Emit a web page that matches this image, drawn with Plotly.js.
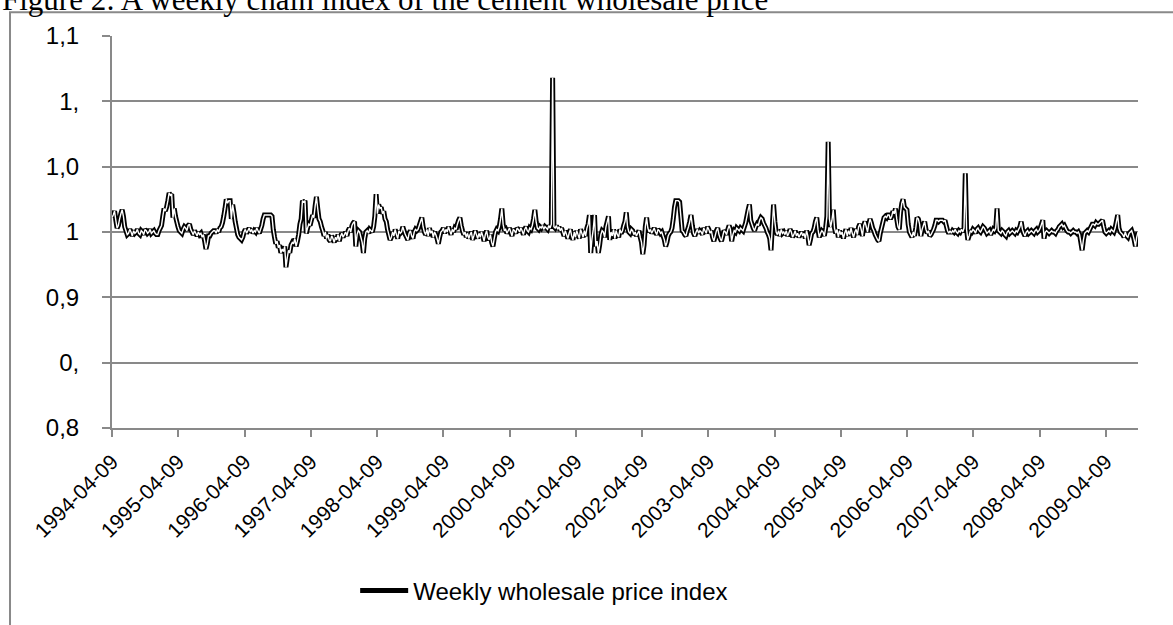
<!DOCTYPE html>
<html>
<head>
<meta charset="utf-8">
<script src="https://cdn.plot.ly/plotly-3.0.1.min.js"></script>
<style>
  html, body { margin: 0; padding: 0; background: #ffffff; overflow: hidden; }
  #chart { width: 1173px; height: 625px; }
</style>
</head>
<body>
<div id="chart"></div>
<script>
// ---- data ----
const startDate = '1994-04-09';
const seriesName = 'Weekly wholesale price index';
const titleText = 'Figure 2: A weekly chain index of the cement wholesale price';

const indexValues = [
1.011,1.013,1.016,1.009,1.003,1.005,1.010,1.014,1.017,1.012,
1.004,1.001,0.998,0.999,1.002,1.000,0.997,1.001,0.999,1.000,
1.002,0.999,0.998,1.001,1.000,0.998,1.002,1.001,0.999,1.000,
1.002,0.999,1.000,1.001,0.999,0.998,0.998,1.001,1.003,1.005,
1.012,1.018,1.016,1.019,1.024,1.030,1.028,1.029,1.011,1.018,
1.012,1.008,1.004,1.001,1.000,0.999,1.002,1.004,1.003,1.001,
1.005,1.006,1.002,1.000,0.998,1.001,0.999,0.997,1.000,0.998,
0.999,0.996,0.998,0.993,0.987,0.991,0.997,0.997,0.999,1.000,
1.001,1.001,0.999,1.002,1.000,1.003,1.004,1.007,1.012,1.018,
1.025,1.022,1.024,1.024,1.010,1.021,1.015,1.008,1.003,0.998,
0.996,0.995,0.994,0.996,1.000,1.002,0.999,1.001,1.003,1.000,
1.002,0.999,1.001,1.000,1.003,1.001,0.999,1.002,1.005,1.010,
1.013,1.013,1.013,1.013,1.013,1.013,1.012,1.002,0.996,0.991,
0.993,0.988,0.990,0.984,0.987,0.985,0.989,0.973,0.980,0.986,
0.984,0.990,0.992,0.991,0.995,0.989,0.993,0.998,1.006,1.010,
1.024,1.023,1.024,0.999,1.003,1.006,1.005,1.009,1.013,1.011,
1.020,1.027,1.018,1.010,1.008,1.004,1.001,0.997,1.000,0.995,
0.998,0.994,0.993,0.997,0.995,0.992,0.996,0.994,0.998,0.993,
0.997,0.999,0.996,0.998,1.000,0.997,1.001,1.003,1.000,1.005,
1.007,1.008,0.989,0.998,1.001,1.000,0.996,0.992,0.984,0.995,
1.000,1.001,0.999,1.002,1.001,1.000,1.004,1.012,1.029,1.014,
1.021,1.018,1.019,1.014,1.016,1.010,1.008,1.002,0.998,0.994,
0.996,1.000,0.997,1.002,0.998,0.995,1.001,0.999,1.000,1.004,
1.001,0.998,0.996,0.994,0.999,1.001,0.997,0.995,1.000,1.002,
1.001,1.002,1.005,1.008,1.011,1.004,1.000,0.998,1.002,0.997,
1.003,0.999,1.001,0.996,1.000,0.998,0.995,0.991,0.996,1.000,
1.001,1.003,0.999,1.002,1.000,1.004,1.001,0.998,1.002,1.000,
1.003,1.002,1.006,1.009,1.011,1.005,1.001,0.998,1.000,0.996,
0.999,0.995,0.998,1.000,0.994,0.997,1.001,0.998,0.995,0.999,
0.996,1.000,0.997,0.993,0.998,1.001,0.996,0.994,0.998,0.992,
0.989,0.995,1.000,1.002,1.001,1.004,1.010,1.018,1.006,1.001,
1.002,0.999,1.001,1.003,1.000,0.997,1.002,1.001,0.999,1.003,
1.002,1.000,1.003,1.001,0.998,1.002,1.004,1.001,1.000,1.003,
1.002,1.005,1.010,1.017,1.008,1.003,1.002,1.004,1.003,1.005,
1.002,1.004,1.003,1.002,1.005,1.003,1.006,1.118,1.004,1.003,
1.005,1.002,1.004,1.001,1.003,1.000,0.997,1.001,0.998,0.995,
0.999,1.002,0.997,0.994,1.000,0.996,1.001,0.998,0.995,1.002,
0.999,0.996,1.001,0.997,1.003,1.006,1.013,0.984,0.995,1.002,
1.013,0.989,0.993,0.984,0.990,0.998,1.001,1.000,0.996,1.004,
1.008,1.012,0.994,1.000,0.997,1.002,0.995,1.001,0.998,0.996,
1.002,0.999,1.001,1.005,1.008,1.015,1.004,1.000,0.999,1.002,
1.001,0.998,1.000,0.997,0.999,1.001,0.996,0.992,0.983,0.990,
1.004,1.011,1.003,1.000,1.002,0.999,1.001,1.003,1.000,0.998,
1.002,1.001,0.999,1.000,0.997,0.994,0.989,0.992,0.997,0.999,
1.000,1.003,1.010,1.019,1.024,1.024,1.024,1.023,1.012,1.001,
1.000,0.998,0.997,1.001,1.004,1.008,1.013,1.005,0.999,0.997,
1.000,1.002,0.999,1.001,1.000,0.998,1.003,1.001,0.999,1.004,
1.002,0.999,1.001,0.996,0.993,0.997,1.001,1.003,0.998,0.995,
0.993,0.997,1.001,1.000,0.998,1.002,1.005,1.002,0.993,0.998,
1.001,1.000,1.003,1.002,1.001,1.003,1.002,1.001,1.004,1.007,
1.012,1.017,1.021,1.009,1.006,1.003,1.001,1.004,1.006,1.005,
1.009,1.011,1.010,1.007,1.005,1.003,1.000,0.998,0.995,0.986,
1.004,1.021,1.008,1.000,0.998,1.001,0.997,1.002,0.999,1.000,
0.998,1.001,0.997,0.999,1.002,1.000,0.996,0.998,1.001,0.997,
0.999,0.996,0.998,1.000,0.997,0.999,0.995,1.001,0.997,0.990,
0.994,0.999,1.000,1.003,1.008,1.011,1.002,0.996,0.999,1.001,
1.000,0.997,1.003,1.012,1.069,1.010,1.004,1.009,1.017,1.003,
0.999,1.002,0.996,1.001,0.998,1.000,0.995,0.999,1.002,0.997,
1.001,0.998,1.003,0.999,0.996,1.000,1.002,0.998,1.004,1.006,
1.002,0.997,1.005,1.008,1.004,1.000,1.006,1.010,1.007,1.003,
1.001,0.998,0.996,0.994,0.993,0.999,1.003,1.007,1.011,1.012,
1.011,1.013,1.013,1.010,1.012,1.016,1.014,1.018,1.010,1.004,
1.002,1.015,1.022,1.025,1.019,1.018,1.017,1.006,1.000,0.998,
0.996,1.000,0.997,1.003,1.011,1.010,1.006,0.997,1.002,1.005,
1.008,1.002,0.999,1.001,0.997,0.998,1.000,1.002,1.005,1.009,
1.009,1.008,1.009,1.009,1.009,1.008,1.009,1.005,1.001,0.999,
1.001,0.999,1.001,1.000,1.002,1.000,0.999,1.001,1.000,1.002,
1.000,1.003,1.045,1.002,0.994,0.997,1.001,1.000,1.002,1.001,
0.999,1.002,1.003,1.001,1.000,1.002,1.004,1.003,1.001,0.999,
1.000,1.001,0.998,1.000,1.002,1.001,1.003,1.018,1.001,1.000,
0.999,1.001,1.000,0.998,0.997,1.000,1.001,0.999,1.000,1.001,
1.000,0.999,1.001,1.000,1.002,1.004,1.008,1.002,0.999,0.997,
1.000,1.001,0.999,1.000,1.001,1.000,0.999,1.001,1.002,1.000,
1.001,1.003,1.006,1.009,0.995,1.000,1.001,1.000,0.999,1.000,
1.001,1.000,1.000,0.999,1.001,1.002,1.004,1.005,1.006,1.004,
1.005,1.003,1.001,1.000,1.000,0.999,1.000,1.001,1.000,1.000,
0.999,1.000,0.998,0.992,0.986,0.994,0.999,1.000,1.001,1.000,
1.002,1.004,1.006,1.006,1.005,1.007,1.006,1.006,1.007,1.008,
1.009,1.004,1.000,0.999,1.000,1.001,1.000,1.002,1.001,1.000,
1.003,1.008,1.013,1.003,1.000,0.999,0.998,0.996,1.000,0.997,
0.996,0.999,1.000,1.001,0.998,0.994,0.989,0.996,1.000
];

const yTickValues = [0.85, 0.90, 0.95, 1.00, 1.05, 1.10, 1.15];
const yTickLabels = ['0,8', '0,', '0,9', '1', '1,0', '1,', '1,1'];

// weekly dates (category axis), one per observation
function addDays(iso, n) {
  const d = new Date(iso + 'T00:00:00Z');
  d.setUTCDate(d.getUTCDate() + n);
  return d.toISOString().slice(0, 10);
}
const weekDates = indexValues.map((v, i) => addDays(startDate, 7 * i));

// ---- drawing ----
const gray = '#898989';
const sans = 'Liberation Sans, Arial, sans-serif';

const outline = {
  x: weekDates, y: indexValues, type: 'scatter', mode: 'lines',
  name: seriesName,
  line: { color: '#000000', width: 5, simplify: false },
  hoverinfo: 'skip'
};
const core = {
  x: weekDates, y: indexValues, type: 'scatter', mode: 'lines',
  showlegend: false,
  line: { color: '#ffffff', width: 1.4, simplify: false },
  hoverinfo: 'skip'
};

const layout = {
  width: 1173, height: 625,
  margin: { l: 112, r: 35, t: 36, b: 192, pad: 0 },
  paper_bgcolor: '#ffffff', plot_bgcolor: '#ffffff',
  font: { family: sans, color: '#000000', size: 24 },
  showlegend: true,
  legend: {
    orientation: 'h', x: 0.237, xanchor: 'left', y: -0.4156, yanchor: 'middle',
    font: { family: sans, size: 24, color: '#000000' },
    itemwidth: 48, bgcolor: 'rgba(0,0,0,0)', borderwidth: 0
  },
  xaxis: {
    type: 'date',
    range: [weekDates[0], weekDates[weekDates.length - 1]],
    tick0: startDate, dtick: 'M12', tickformat: '%Y-%m-%d',
    tickangle: -45,
    ticks: 'outside', ticklen: 7, tickwidth: 2, tickcolor: gray,
    ticklabelstandoff: 4,
    showgrid: false, zeroline: false,
    showline: true, linecolor: gray, linewidth: 2,
    tickfont: { family: sans, size: 21, color: '#000000' },
    fixedrange: true
  },
  yaxis: {
    range: [0.85, 1.15],
    tickmode: 'array', tickvals: yTickValues, ticktext: yTickLabels,
    ticks: 'outside', ticklen: 8, tickwidth: 2, tickcolor: gray,
    ticklabelstandoff: 18,
    showgrid: true, gridcolor: gray, gridwidth: 2,
    zeroline: false,
    showline: true, linecolor: gray, linewidth: 2,
    tickfont: { family: sans, size: 24, color: '#000000' },
    fixedrange: true
  },
  shapes: [{
    type: 'rect', xref: 'paper', yref: 'paper', layer: 'below',
    x0: -0.0994, x1: 1.2, y0: -0.7, y1: 1.0605,
    line: { color: gray, width: 2 }, fillcolor: 'rgba(0,0,0,0)'
  }],
  annotations: [{
    xref: 'paper', yref: 'paper', x: -0.1092, xanchor: 'left',
    y: 1.0435, yanchor: 'bottom', showarrow: false,
    text: titleText,
    font: { family: 'Liberation Serif, Times New Roman, serif', size: 31, color: '#000000' }
  }]
};

Plotly.newPlot('chart', [outline, core], layout, { staticPlot: true, displayModeBar: false });
</script>
</body>
</html>
